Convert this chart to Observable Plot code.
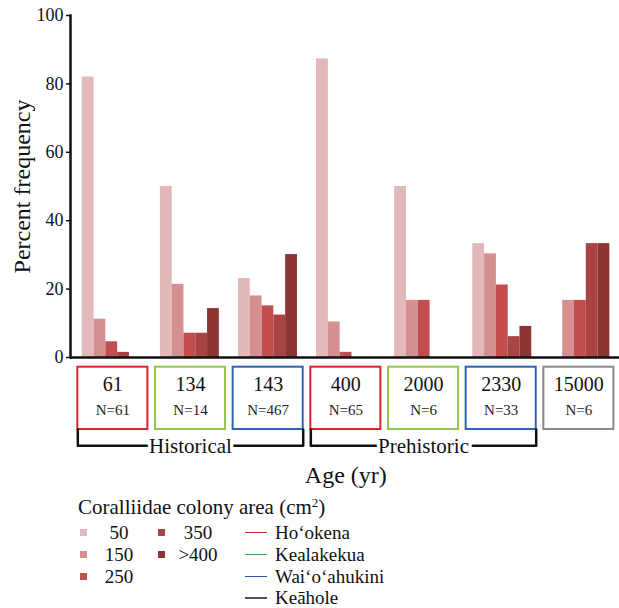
<!DOCTYPE html>
<html><head><meta charset="utf-8">
<script src="https://cdn.jsdelivr.net/npm/d3@7"></script>
<script src="https://cdn.jsdelivr.net/npm/@observablehq/plot@0.6"></script>
<style>
body{margin:0;background:#fff;}
#wrap{position:relative;width:619px;height:608px;font-family:"Liberation Serif","DejaVu Serif",serif;color:#111;overflow:hidden;}
#wrap svg{position:absolute;left:0;overflow:visible;}
.leg{position:absolute;font-size:19px;line-height:22px;white-space:nowrap;}
.ttl{position:absolute;left:78px;top:497px;font-size:21px;line-height:21px;white-space:nowrap;}
.ttl sup{font-size:13px;line-height:0;vertical-align:7px;}
.sq{position:absolute;width:7px;height:7px;}
.ln{position:absolute;width:22px;height:1.6px;}
</style></head><body><div id="wrap"></div>
<script>
// ---- data ----
const ages = ["61","134","143","400","2000","2330","15000"];
const sampleN = [61,14,467,65,6,33,6];
const sites = ["Ho‘okena","Kealakekua","Wai‘o‘ahukini","Keāhole"];
const ageSite = ["Ho‘okena","Kealakekua","Wai‘o‘ahukini","Ho‘okena","Kealakekua","Wai‘o‘ahukini","Keāhole"];
const eraNames = ["Historical","Prehistoric"];
const ageEra = ["Historical","Historical","Historical","Prehistoric","Prehistoric","Prehistoric",null];
const sizeClasses = ["50","150","250","350",">400"];
const pct50  = [82.0, 50.0, 23.1, 87.3, 50.0, 33.3, 0];
const pct150 = [11.2, 21.4, 18.0, 10.4, 16.7, 30.3, 16.7];
const pct250 = [4.6, 7.1, 15.1, 1.5, 16.7, 21.2, 16.7];
const pct350 = [1.5, 7.1, 12.4, 0, 0, 6.1, 33.3];
const pct400 = [0, 14.3, 30.1, 0, 0, 9.1, 33.3];
const yTicks = [0,20,40,60,80,100];
const sizeColors = ["#e2b8ba","#d48f91","#c24e4e","#aa4343","#8d3535"];
const boxColors = ["#dc2429","#94c54c","#2f62b6","#8a8a8a"];
const siteLineColors = ["#d62a2a","#3a9f3a","#3358b8","#555555"];

// ---- main bars ----
const pctBySize = [pct50,pct150,pct250,pct350,pct400];
const rows = [];
ages.forEach((a,i)=>sizeClasses.forEach((s,k)=>rows.push({age:a,size:s,pct:pctBySize[k][i]})));
const W=619, ML=70, MR=0, PI=0.245, PO=0.137, AL=0.55;
const step=(W-ML-MR)/(ages.length-PI+2*PO), bw=step*(1-PI), sub=bw/sizeClasses.length;
const font='"Liberation Serif","DejaVu Serif",serif';

const main = Plot.plot({
  width:W, height:362, marginTop:15, marginBottom:5, marginLeft:ML, marginRight:MR,
  style:{fontFamily:font, fontSize:"18px", color:"#111", background:"transparent", overflow:"visible"},
  x:{type:"band", domain:ages, paddingInner:PI, paddingOuter:PO, align:AL, round:false, axis:null},
  y:{domain:[0,100], axis:null},
  marks:[
    ...sizeClasses.map((s,k)=>Plot.barY(rows.filter(r=>r.size===s),
      {x:"age", y:"pct", fill:sizeColors[k], insetLeft:k*sub, insetRight:(sizeClasses.length-1-k)*sub})),
    Plot.axisY({ticks:yTicks, tickSize:4, tickPadding:3, strokeWidth:1.5, label:null, fontSize:18, tickFormat:d=>String(d)}),
    Plot.frame({anchor:"left", strokeWidth:2.5, stroke:"#111"}),
    Plot.ruleY([0],{strokeWidth:2.5, stroke:"#111"}),
    Plot.text(["Percent frequency"],{frameAnchor:"left", textAnchor:"middle", lineAnchor:"middle", dx:-48, rotate:-90, fontSize:24, fill:"#111"})
  ]
});
main.style.top="0px";

// ---- age boxes ----
const DELTA=0.049;
const boxes = ages.map((a,i)=>({i, age:a, n:sampleN[i], site:ageSite[i]}));
const bracketPts = [];
const eraLabels = [];
eraNames.forEach(e=>{
  const idx = ageEra.map((v,i)=>v===e?i:-1).filter(i=>i>=0);
  const from = d3.min(idx), to = d3.max(idx)+1;
  bracketPts.push({era:e,x:from+DELTA,y:1},{era:e,x:from+DELTA,y:1.262},{era:e,x:to-DELTA,y:1.262},{era:e,x:to-DELTA,y:1});
  eraLabels.push({era:e,x:(from+to)/2,y:1.262});
});
const boxPlot = Plot.plot({
  width:W, height:130, marginLeft:73.5, marginRight:1.8, marginTop:0, marginBottom:0,
  style:{fontFamily:font, fontSize:"18px", color:"#111", background:"transparent", overflow:"visible"},
  x:{domain:[0,ages.length], axis:null},
  y:{domain:[0,1], range:[6.7,69], axis:null},
  color:{domain:sites, range:boxColors},
  marks:[
    Plot.rect(boxes,{x1:d=>d.i+DELTA, x2:d=>d.i+1-DELTA, y1:0, y2:1, stroke:"site", fill:"white", strokeWidth:2}),
    Plot.text(boxes,{x:d=>d.i+0.5, y:0.286, text:"age", fontSize:20, fill:"#111"}),
    Plot.text(boxes,{x:d=>d.i+0.5, y:0.695, text:d=>"N="+d.n, fontSize:15, fill:"#222"}),
    Plot.line(bracketPts,{x:"x", y:"y", z:"era", stroke:"#111", strokeWidth:2.5, curve:"linear"}),
    Plot.text(eraLabels,{x:"x", y:"y", text:"era", fontSize:21, fill:"#111", stroke:"white", strokeWidth:7}),
    Plot.text(["Age (yr)"],{frameAnchor:"bottom", lineAnchor:"middle", dy:-15.5, fontSize:24, fill:"#111"})
  ]
});
boxPlot.style.top="360px";

const wrap = document.getElementById("wrap");
wrap.appendChild(main);
wrap.appendChild(boxPlot);

// ---- legend ----
const title = document.createElement("div");
title.className="ttl";
title.innerHTML="Coralliidae colony area (cm<sup>2</sup>)";
wrap.appendChild(title);
const rowC = [532.5,554.5,576.5,598];
const cols = [{sq:80, lab:119},{sq:158, lab:198}];
sizeClasses.forEach((s,k)=>{
  const c = cols[k<3?0:1], r = rowC[k<3?k:k-3];
  const sq=document.createElement("div"); sq.className="sq";
  sq.style.left=c.sq+"px"; sq.style.top=(r-3.5)+"px"; sq.style.background=sizeColors[k];
  wrap.appendChild(sq);
  const t=document.createElement("div"); t.className="leg";
  t.style.left=(c.lab-30)+"px"; t.style.width="60px"; t.style.textAlign="center"; t.style.top=(r-11)+"px";
  t.textContent=s; wrap.appendChild(t);
});
sites.forEach((s,k)=>{
  const r=rowC[k];
  const ln=document.createElement("div"); ln.className="ln";
  ln.style.left="245px"; ln.style.top=(r-0.8)+"px"; ln.style.background=siteLineColors[k];
  wrap.appendChild(ln);
  const t=document.createElement("div"); t.className="leg";
  t.style.left="275px"; t.style.top=(r-11)+"px"; t.textContent=s;
  wrap.appendChild(t);
});
</script></body></html>
